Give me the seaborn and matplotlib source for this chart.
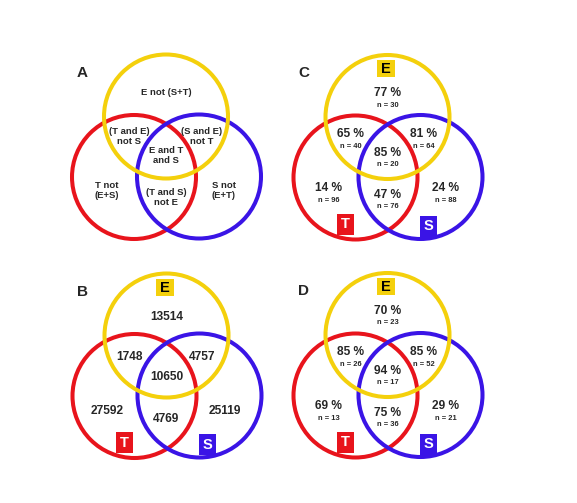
import matplotlib
matplotlib.use("Agg")
import matplotlib.pyplot as plt
from matplotlib.patches import Circle, Rectangle
import seaborn as sns

sns.set_theme(style="white")
plt.rcParams['font.family'] = ['Liberation Sans', 'DejaVu Sans']

# data
regions_a = ["E not (S+T)", "(T and E)\nnot S", "(S and E)\nnot T", "E and T\nand S",
             "T not\n(E+S)", "(T and S)\nnot E", "S not\n(E+T)"]
counts_b = [13514, 1748, 4757, 10650, 27592, 4769, 25119]
pct_c = [77, 65, 81, 85, 14, 47, 24]
n_c = [30, 40, 64, 20, 96, 76, 88]
pct_d = [70, 85, 85, 94, 69, 75, 29]
n_d = [23, 26, 52, 17, 13, 36, 21]
set_names = ["E", "T", "S"]

# colours: E yellow, T red, S blue
colors = ["#F4D00C", "#E8141C", "#3A14E6"]
palette = sns.color_palette(colors)

# layout (pixels, relative to the centre of the yellow circle)
R = 62
circle_off = [(0, 0), (-32, 60.5), (33, 60)]
region_off = [(0, -24), (-37, 17), (36, 17), (0, 36), (-59, 71), (0, 78), (58, 71)]
box_off = [(-1.5, -48.5), (-42, 107), (41, 109)]
box_size = [(18, 17), (17, 21), (17, 21)]
panels = {"A": (166, 116.5), "B": (166.5, 335.5), "C": (387.5, 117), "D": (387.5, 335)}

fig = plt.figure(figsize=(5.77, 5.03), dpi=100)
ax = fig.add_axes([0, 0, 1, 1])
ax.set_xlim(0, 577)
ax.set_ylim(503, 0)
ax.set_aspect('equal')
ax.axis('off')


def draw_venn(cx, cy, letter, with_boxes):
    for (dx, dy), col in zip([circle_off[1], circle_off[2], circle_off[0]],
                             [palette[1], palette[2], palette[0]]):
        ax.add_patch(Circle((cx + dx, cy + dy), R, fill=False, ec=col, lw=2.9))
    ax.text(cx - 84, cy - 44, letter, fontsize=11, fontweight='bold',
            ha='center', va='center')
    if with_boxes:
        for (dx, dy), (w, h), name, col in zip(box_off, box_size, set_names, palette):
            tc = 'black' if name == "E" else 'white'
            ax.add_patch(Rectangle((cx + dx - w / 2, cy + dy - h / 2), w, h,
                                   fc=col, ec='none', zorder=3))
            ax.text(cx + dx, cy + dy + 0.5, name, fontsize=10.5, fontweight='bold',
                    color=tc, ha='center', va='center', zorder=4)


# A
cx, cy = panels["A"]
draw_venn(cx, cy, "A", False)
for (dx, dy), lab in zip(region_off, regions_a):
    yy = cy + dy if lab == "E not (S+T)" else cy + dy + 3
    ax.text(cx + dx, yy, lab, fontsize=6.8, fontweight='bold', ha='center',
            va='center', linespacing=1.15)

# B
cx, cy = panels["B"]
draw_venn(cx, cy, "B", True)
for (dx, dy), v in zip(region_off, counts_b):
    ax.text(cx + dx, cy + dy + 5, str(v), fontsize=8.6, fontweight='bold',
            ha='center', va='center')

# C and D
for key, pcts, ns in [("C", pct_c, n_c), ("D", pct_d, n_d)]:
    cx, cy = panels[key]
    draw_venn(cx, cy, key, True)
    for (dx, dy), p, n in zip(region_off, pcts, ns):
        ax.text(cx + dx, cy + dy, f"{p} %", fontsize=8.6, fontweight='bold',
                ha='center', va='center')
        ax.text(cx + dx, cy + dy + 12, f"n = {n}", fontsize=5.4, fontweight='bold',
                ha='center', va='center')

fig.savefig("out.png", dpi=100, facecolor='white')
